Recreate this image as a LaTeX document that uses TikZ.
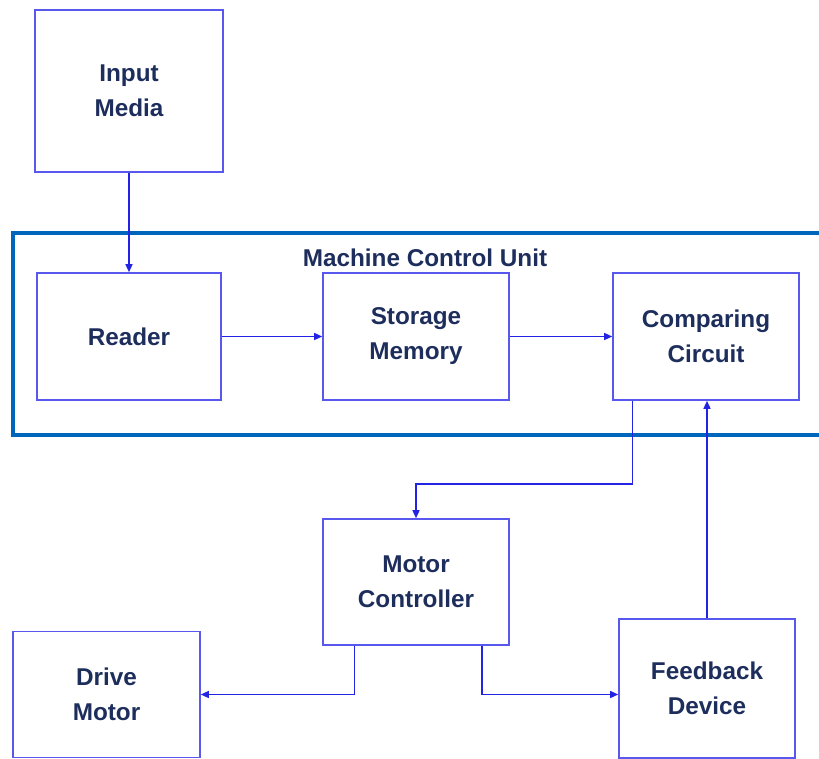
\documentclass[tikz,border=0pt]{standalone}
\usepackage{fontspec}
\setmainfont{Liberation Sans}
\usepackage{tikz}
\usetikzlibrary{arrows.meta,calc,positioning}
\definecolor{mcublue}{RGB}{0,102,187}
\definecolor{boxblue}{RGB}{88,88,238}
\definecolor{lineblue}{RGB}{35,35,228}
\definecolor{textnavy}{RGB}{30,46,92}

\begin{document}
\begin{tikzpicture}[x=1pt,y=-1pt,font=\fontsize{24.3}{35}\selectfont\bfseries,
      blk/.style={draw=boxblue,line width=1.6pt,text=textnavy,align=center,
        minimum width=186pt,minimum height=127pt,inner sep=0pt},
      arr/.style={draw=lineblue,line width=1.4pt,-{Triangle[length=8pt,width=7pt]}}]
      \useasboundingbox (0,0) rectangle (819,759);
      \clip (0,0) rectangle (819,759);
      % machine control unit frame
      \draw[mcublue,line width=4.5pt] (13,233) rectangle (840,435);
      \node[text=textnavy] (mcu) at (425,258) {Machine Control Unit};
      \node[blk,minimum width=188pt,minimum height=162pt,text depth=-10pt] (media) at (129,91) {Input\\Media};
      \node[blk,minimum width=184pt] (reader) at (129,336.5) {Reader};
      \node[blk] (storage) at (416,336.5) {Storage\\Memory};
      \node[blk] (compare) at (706,336.5) {Comparing\\Circuit};
      \node[blk,minimum height=126pt] (motorctl) at (416,582) {Motor\\Controller};
      \node[blk,minimum width=187pt,minimum height=126pt] (drive) at (106.5,694.5) {Drive\\Motor};
      \node[blk,minimum width=176pt,minimum height=139pt] (feedback) at (707,688.5) {Feedback\\Device};
      \draw[arr] (media.south) -- (reader.north);
      \draw[arr] (reader.east) -- (storage.west);
      \draw[arr] (storage.east) -- (compare.west);
      \draw[arr] ([xshift=20pt]compare.south west) -- ++(0,83) -| (motorctl.north);
      \draw[arr] ([xshift=32pt]motorctl.south west) |- (drive.east);
      \draw[arr] ([xshift=-28pt]motorctl.south east) |- (drive.east -| feedback.west);
      \draw[arr] (feedback.north) -- (feedback.north |- compare.south);
    \end{tikzpicture}
\end{document}
